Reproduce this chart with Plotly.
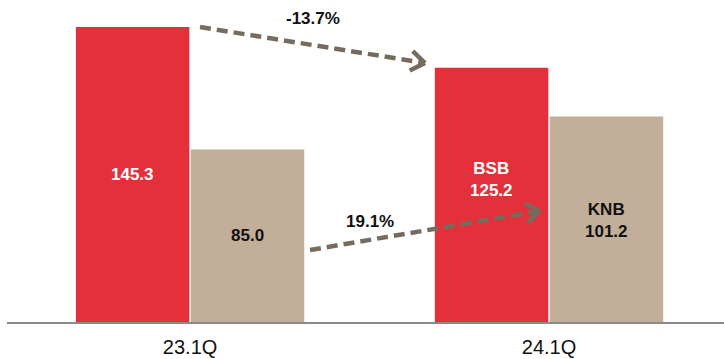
import plotly.graph_objects as go

# Quarterly values for the two banks
quarters = ["23.1Q", "24.1Q"]
bsb = [145.3, 125.2]
knb = [85.0, 101.2]
series_names = ["BSB", "KNB"]
changes = ["-13.7%", "19.1%"]

RED = "#e4303a"
TAN = "#c1af9a"
ARROW = "#776b5d"
FONT = "Liberation Sans, Arial, sans-serif"

W, H = 724, 359
ML, MR, MT, MB = 7, 0, 0, 37
X_RANGE = [-0.51, 1.4875]
Y_RANGE = [0, 158.6]

plot_w = W - ML - MR
plot_h = H - MT - MB


def px_to_x(px):
    return X_RANGE[0] + (px - ML) / plot_w * (X_RANGE[1] - X_RANGE[0])


def py_to_y(py):
    return Y_RANGE[1] - (py - MT) / plot_h * (Y_RANGE[1] - Y_RANGE[0])


def x_to_px(x):
    return ML + (x - X_RANGE[0]) / (X_RANGE[1] - X_RANGE[0]) * plot_w


def y_to_py(y):
    return MT + (Y_RANGE[1] - y) / (Y_RANGE[1] - Y_RANGE[0]) * plot_h


fig = go.Figure()
fig.add_trace(go.Bar(x=[0, 1], y=bsb, name=series_names[0], marker_color=RED,
                     marker_line_width=0, hoverinfo="skip"))
fig.add_trace(go.Bar(x=[0, 1], y=knb, name=series_names[1], marker_color=TAN,
                     marker_line_width=0, hoverinfo="skip"))

BARGAP = 0.36
GROUPGAP = 0.012
slot = (1 - BARGAP) / 2
offsets = [-slot / 2, slot / 2]

# Value labels inside bars; the latest quarter also carries the bank name
for i in range(len(quarters)):
    for s, (vals, color) in enumerate([(bsb, "white"), (knb, "#111111")]):
        v = vals[i]
        txt = f"{v:.1f}"
        yshift = 0
        if i == len(quarters) - 1:
            txt = f"{series_names[s]}<br>{txt}"
            yshift = 15 if s == 0 else -1
        fig.add_annotation(x=i + offsets[s], y=v / 2, text=txt, showarrow=False,
                           font=dict(family=FONT, size=17, color=color, weight="bold"),
                           yshift=yshift, align="center")


def dashed_arrow(x0, y0, x1, y1, label, lx, ly):
    fig.add_trace(go.Scatter(x=[x0, x1], y=[y0, y1], mode="lines",
                             line=dict(color=ARROW, width=4.5, dash="11px,6px"),
                             hoverinfo="skip", showlegend=False))
    # open chevron head, built in pixel space
    import math
    p0 = (x_to_px(x0), y_to_py(y0))
    p1 = (x_to_px(x1), y_to_py(y1))
    ang = math.atan2(p1[1] - p0[1], p1[0] - p0[0])
    L = 17
    hx, hy = [], []
    for da in (math.radians(145), math.radians(-145)):
        hx += [px_to_x(p1[0] + L * math.cos(ang + da)), x1, None]
        hy += [py_to_y(p1[1] + L * math.sin(ang + da)), y1, None]
    fig.add_trace(go.Scatter(x=hx, y=hy, mode="lines",
                             line=dict(color=ARROW, width=4.5),
                             hoverinfo="skip", showlegend=False))
    fig.add_annotation(x=lx, y=ly, text=label, showarrow=False,
                       font=dict(family=FONT, size=17, color="#111111", weight="bold"))


# BSB change: from the 23.1Q top towards the 24.1Q bar
dashed_arrow(px_to_x(200), bsb[0], px_to_x(425), py_to_y(63),
             changes[0], px_to_x(313), py_to_y(18))
# KNB change
dashed_arrow(px_to_x(310), py_to_y(250), px_to_x(540), py_to_y(211),
             changes[1], px_to_x(370), py_to_y(221))

fig.update_layout(
    width=W, height=H,
    margin=dict(l=ML, r=MR, t=MT, b=MB, pad=0),
    paper_bgcolor="white", plot_bgcolor="white",
    barmode="group", bargap=BARGAP, bargroupgap=GROUPGAP,
    showlegend=False,
    xaxis=dict(range=X_RANGE, tickmode="array", tickvals=[0, 1], ticktext=quarters,
               showgrid=False, zeroline=False, showline=True, linecolor="#8a8a8a",
               linewidth=2, ticks="", tickfont=dict(family=FONT, size=20, color="#111111"),
               ticklabelstandoff=6, fixedrange=True),
    yaxis=dict(range=Y_RANGE, visible=False, fixedrange=True),
)

fig.write_html("out.html")
